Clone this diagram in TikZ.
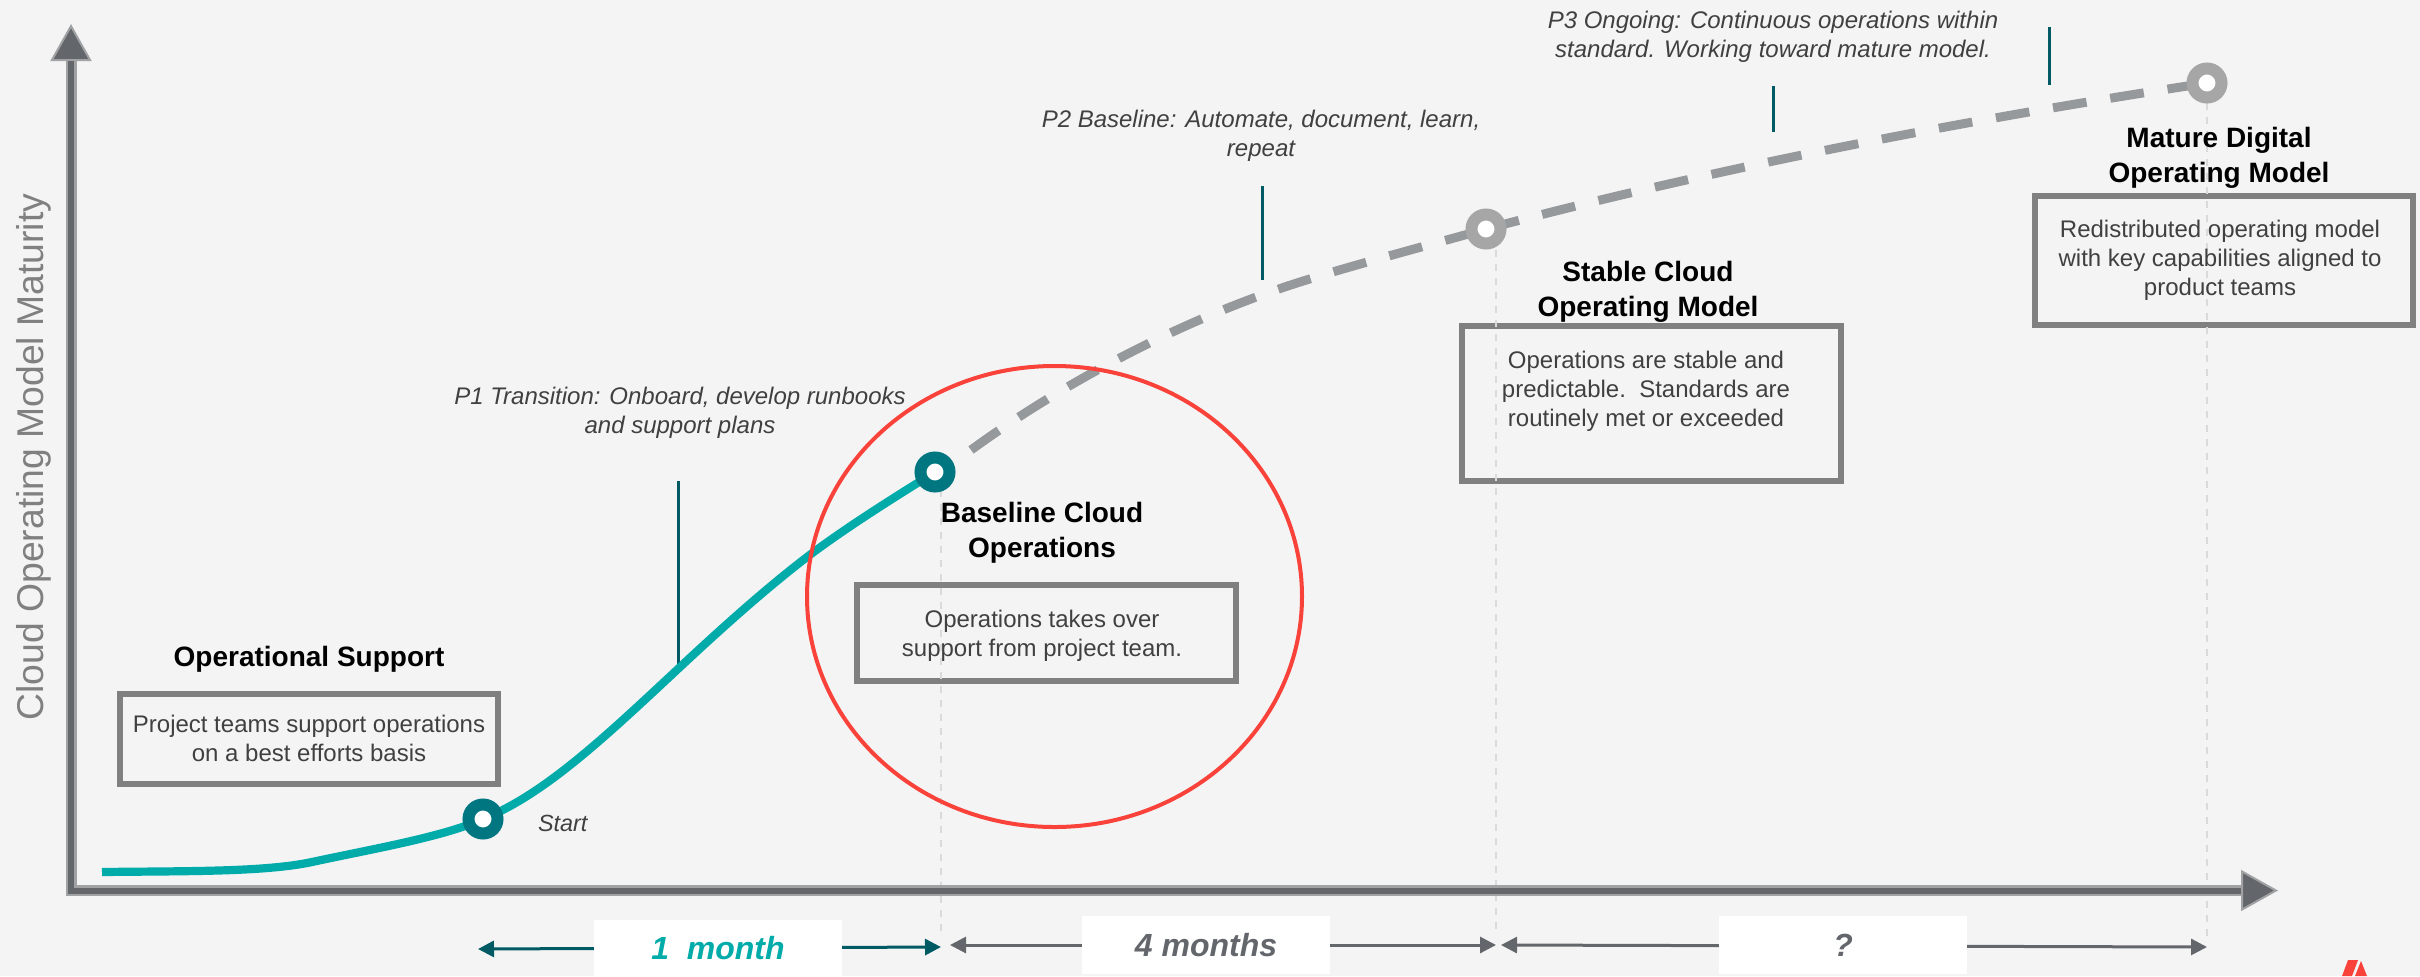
\documentclass[tikz,border=0pt]{standalone}
\usepackage{fontspec}
\setmainfont{Liberation Sans}
\usetikzlibrary{arrows.meta,shapes.geometric}
\definecolor{bgc}{HTML}{F4F4F4}
\definecolor{axdark}{HTML}{63666A}
\definecolor{axlight}{HTML}{A0A2A4}
\definecolor{tealc}{HTML}{00ABA9}
\definecolor{ringteal}{HTML}{007681}
\definecolor{ringgray}{HTML}{A6A6A6}
\definecolor{dashc}{HTML}{96999C}
\definecolor{deep}{HTML}{005A64}
\definecolor{boxc}{HTML}{808080}
\definecolor{bodyc}{HTML}{404040}
\definecolor{redc}{HTML}{F9423A}
\definecolor{guidec}{HTML}{DADADA}
\tikzset{
  x=0.5pt,y=-0.5pt,
  every node/.style={inner sep=0pt,outer sep=0pt},
  axisouter/.style={draw=axlight,line width=5.5pt,line join=miter,
    {Triangle[length=18.5pt,width=20.5pt,line width=1pt,fill=axdark]}-{Triangle[length=18.5pt,width=20.5pt,line width=1pt,fill=axdark]}},
  axisinner/.style={draw=axdark,line width=3pt,line join=miter},
  ring/.style={circle,minimum size=14.5pt,line width=6pt,fill=white},
  infobox/.style={draw=boxc,line width=3pt,rectangle},
  guide/.style={draw=guidec,line width=0.75pt,dash pattern=on 3.5pt off 3.5pt},
  stem/.style={draw=deep,line width=1.5pt},
  spanline/.style={line width=1.5pt,{Triangle[length=8pt,width=8pt]}-{Triangle[length=8pt,width=8pt]}},
  whitebox/.style={fill=white,rectangle,minimum width=124pt,font=\fontsize{16}{19}\selectfont\bfseries\itshape},
  headtxt/.style={anchor=base,align=center,text=black,font=\fontsize{14}{17.5}\selectfont\bfseries},
  bodytxt/.style={anchor=base,align=center,text=bodyc,font=\fontsize{12}{14.4}\selectfont},
  phasetxt/.style={anchor=base,align=center,text=bodyc,font=\fontsize{12}{14.4}\selectfont\itshape},
  maturecurve/.style={draw=dashc,line width=4.5pt,dash pattern=on 17pt off 12pt},
}
\begin{document}
\begin{tikzpicture}
\useasboundingbox (0,0) rectangle (2420,976);
\fill[bgc] (0,0) rectangle (2420,976);
% coordinates
\coordinate (ytip) at (71,24);
\coordinate (ybase) at (71,61);
\coordinate (corner) at (71,890.5);
\coordinate (xbase) at (2241,890.5);
\coordinate (xtip) at (2278,890.5);
% info boxes
\node[infobox,minimum width=189pt,minimum height=45pt] (boxA) at (309,739) {};
\node[infobox,minimum width=189.5pt,minimum height=48pt] (boxB) at (1046,633) {};
\node[infobox,minimum width=189.75pt,minimum height=77.5pt] (boxC) at (1651.25,403.5) {};
\node[infobox,minimum width=189pt,minimum height=64.5pt] (boxD) at (2224,260.5) {};
% guides
\coordinate (gB1) at (941,490); \coordinate (gB2) at (941,937);
\coordinate (gC1) at (1496,250); \coordinate (gC2) at (1496,933);
\coordinate (gD1) at (2207,103); \coordinate (gD2) at (2207,941);
\draw[guide] (gB1) -- (gB2);
\draw[guide] (gC1) -- (gC2);
\draw[guide] (gD1) -- (gD2);
% axes
\draw[axisouter] (ytip) -- (corner) -- (xtip);
\draw[axisinner] (ybase) -- (corner) -- (xbase);
% stems
\coordinate (s1a) at (678,481); \coordinate (s1b) at (678,668);
\coordinate (s2a) at (1262,186); \coordinate (s2b) at (1262,280);
\coordinate (s3a) at (1773,86); \coordinate (s3b) at (1773,132);
\coordinate (s4a) at (2049,27); \coordinate (s4b) at (2049,85);
\draw[stem] (s1a) -- (s1b);
\draw[stem] (s2a) -- (s2b);
\draw[stem] (s3a) -- (s3b);
\draw[stem] (s4a) -- (s4b);
% ring positions
\coordinate (pA) at (483,819);
\coordinate (pB) at (935,472);
\coordinate (pC) at (1486,229);
\coordinate (pD) at (2207,83);
\coordinate (cStart) at (102,872);
\coordinate (cDash) at (971,450);
% curves
\draw[tealc,line width=4.1pt] (cStart) .. controls (190,871) and (265,872) .. (312,862)
  .. controls (372,849) and (443,837) .. (pA)
  .. controls (545,794) and (605,737) .. (679,668)
  .. controls (725,625) and (770,585) .. (811,554)
  .. controls (850,525) and (895,497) .. (pB);
\draw[maturecurve] (cDash) .. controls (1060,385) and (1180,320) .. (1300,282)
  .. controls (1360,263) and (1430,245) .. (pC);
\draw[maturecurve] (pC) .. controls (1700,172) and (1950,122) .. (pD);
% rings
\node[ring,draw=ringteal] (ringA) at (pA) {};
\node[ring,draw=ringteal] (ringB) at (pB) {};
\node[ring,draw=ringgray] (ringC) at (pC) {};
\node[ring,draw=ringgray] (ringD) at (pD) {};
% duration arrows
\coordinate (a1l) at (478,949); \coordinate (a1r) at (941,947);
\coordinate (a2l) at (950,945); \coordinate (a2r) at (1496,945);
\coordinate (a3l) at (1501,945); \coordinate (a3r) at (2207,947);
\draw[spanline,deep] (a1l) -- (a1r);
\draw[spanline,axdark] (a2l) -- (a2r);
\draw[spanline,axdark] (a3l) -- (a3r);
\node[whitebox,minimum height=28pt,text=tealc] (w1) at (718,948) {1\ \ month};
\node[whitebox,minimum height=29pt,text=axdark] (w2) at (1206,945) {4 months};
\node[whitebox,minimum height=29pt,text=axdark] (w3) at (1843,945) {?};
% red circle
\node[ellipse,draw=redc,line width=2pt,minimum width=247.5pt,minimum height=230.5pt] (focus) at (1054.5,596.5) {};
% logo
\fill[redc] (2348,960) -- (2358,960) -- (2352,976) -- (2342,976) -- cycle;
\fill[redc] (2361,961) -- (2367,976) -- (2355,976) -- cycle;
% texts
\node[rotate=90,anchor=base,text=boxc,font=\fontsize{18.65}{22}\selectfont] (ylab) at (43,457) {Cloud Operating Model Maturity};
\node[headtxt] (hA) at (309,666) {Operational Support};
\node[headtxt] (hB) at (1042,557) {Baseline Cloud\\Operations};
\node[headtxt] (hC) at (1648,316) {Stable Cloud\\Operating Model};
\node[headtxt] (hD) at (2219,182) {Mature Digital\\Operating Model};
\node[bodytxt] (tA) at (309,761) {Project teams support operations\\on a best efforts basis};
\node[bodytxt] (tB) at (1042,656) {Operations takes over\\support from project team.};
\node[bodytxt] (tC) at (1646,426) {Operations are stable and\\predictable.\ \ Standards are\\routinely met or exceeded};
\node[bodytxt] (tD) at (2220,295) {Redistributed operating model\\with key capabilities aligned to\\product teams};
\node[phasetxt] (p1) at (680,433) {P1 Transition: Onboard, develop runbooks\\and support plans};
\node[phasetxt] (p2) at (1261,156) {P2 Baseline: Automate, document, learn,\\repeat};
\node[phasetxt] (p3) at (1773,57) {P3 Ongoing: Continuous operations within\\standard. Working toward mature model.};
\node[anchor=base west,text=bodyc,font=\fontsize{11.7}{14}\selectfont\itshape] (st) at (538,831) {Start};
\end{tikzpicture}
\end{document}
